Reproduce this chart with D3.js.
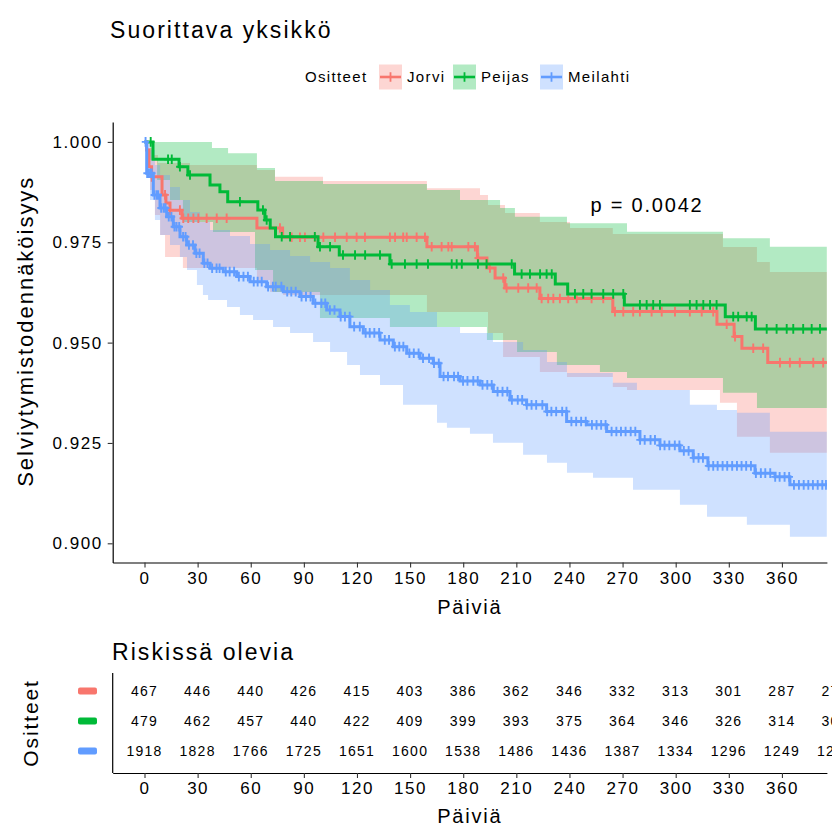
<!DOCTYPE html>
<html>
<head>
<meta charset="utf-8">
<script src="https://cdn.jsdelivr.net/npm/d3@7"></script>
<style>
  body { margin: 0; background: #fff; }
  svg text { font-family: "Liberation Sans", Arial, sans-serif; letter-spacing: 0.09em; fill: #000; }
</style>
</head>
<body>
<svg id="chart" width="832" height="827"></svg>
<script>
// ---- data -------------------------------------------------------------
const groups = ["Jorvi", "Peijas", "Meilahti"];
const groupColors = ["#F8766D", "#00BA38", "#619CFF"];
const legendTitle = "Ositteet";
const pValueLabel = "p = 0.0042";

// Kaplan-Meier estimates: [day, survival] at each step
const jorviSurv = [[0,1],[1.2,0.998],[2.5,0.9938],[4.0,0.9913],[9.9,0.9868],[12.1,0.9848],[14.4,0.983],
  [21.2,0.98097],[63.5,0.97856],[78.0,0.97625],[159.5,0.9739],[188.0,0.97109],[193.4,0.9686],[198.0,0.9661],
  [203.5,0.96362],[223.3,0.961],[264.5,0.95772],[323.3,0.95458],[333.0,0.9515],[337.4,0.94861],[352.0,0.94502],[385.4,0.94502]];
const peijasSurv = [[0,1],[4.8,0.99567],[19.5,0.99382],[24.5,0.99176],[37,0.98927],[42.6,0.9876],[47,0.98511],
  [64,0.98304],[68,0.98055],[71,0.97856],[74,0.97639],[98,0.9739],[110,0.97184],[138.6,0.9696],[209,0.96711],
  [232,0.96462],[239,0.96213],[271,0.9594],[328,0.95647],[345,0.95341],[385.4,0.95341]];
const meilahtiSurv = [[0,1],[1.24,0.99218],[4.97,0.98678],[8.75,0.98354],[12.54,0.98137],[16.26,0.97888],
  [20.05,0.97639],[23.83,0.97433],[28.52,0.97226],[33.2,0.96977],[37,0.96853],[44.5,0.96768],[52.07,0.96644],
  [59.6,0.96519],[69,0.96394],[78.4,0.9627],[87.8,0.96146],[95.3,0.95981],[102.9,0.95814],[110.4,0.95648],
  [116,0.95398],[123.6,0.95242],[133,0.95067],[140.5,0.949],[148.1,0.94736],[155.6,0.94612],[163.1,0.94487],
  [166.9,0.94154],[178.2,0.94046],[189.5,0.93947],[197,0.9378],[206.4,0.93573],[215.8,0.93449],[227.1,0.93282],
  [238.4,0.93033],[249.7,0.92951],[261,0.92784],[279.8,0.92577],[291.1,0.9244],[302.4,0.92303],[309.9,0.92129],
  [318.2,0.9193],[344.8,0.91748],[356.1,0.91656],[364.5,0.91457],[385.4,0.91444]];

// censoring times (days)
const jorviCensor = [4.1,11.6,14.4,20,21.9,24.7,27.6,30.4,35.1,40.8,46.4,76.5,83.1,87.8,90.6,96.2,101,107.6,
  114.2,119.8,124.5,138.6,141.5,146.1,148.1,153.7,158.4,162.2,167.8,171.6,173.5,182.9,186.6,188.5,195.1,202.6,
  204.5,211.1,216.7,221.5,224.3,228,230.9,234.6,239.3,244.1,252.5,259.1,265.7,270.4,276,279.8,286.4,292.1,
  299.6,308,314.7,321.2,328.8,333.5,343.8,349.4,358.9,364.5,370.1,377.7,383.3];
const peijasCensor = [3.5,13.3,15.4,20,25.7,53.9,66.9,69,77.5,82.2,96.2,99.1,104.8,112.1,118.9,124.6,133,
  139.6,147.1,153.7,160.1,173.5,176.3,179.2,188.3,193.2,207.4,213,217.7,223.4,227.1,230,243.1,247.8,252.5,
  259.1,264.7,270.4,279.8,283.6,287.3,291.1,308,311.8,315.6,319.4,323.1,332.5,335.3,340.1,342.9,351.4,357,
  362.7,366.4,372,376.8,381.5];
const meilahtiCensor = [0.6,1.5,2.3,3.4,4.1,5.6,6.9,7.7,9.4,10.8,11.9,13.7,15.2,16.9,18.1,19.6,21.8,23.2,
  25.1,27.4,29.3,31.1,33.8,35.6,38.2,40.7,42.4,45.9,48.1,50.6,53.3,55.9,58.4,61.7,63.9,66.2,69.8,72.5,74.1,
  77.3,80.6,82.9,85.4,88.7,91.2,93.8,96.5,99.9,102.1,104.7,107.3,110.8,113.2,115.9,118.4,121.6,124.9,127.2,
  129.8,132.5,135.7,138.1,141.4,143.9,146.2,149.6,152.1,154.8,157.3,160.7,163.5,166.2,168.9,171.4,174.8,
  177.1,179.9,182.4,185.7,188.2,190.9,193.6,196.1,199.4,202.2,204.9,207.5,210.8,213.3,215.9,218.6,221.2,
  224.7,227.4,229.8,232.5,235.9,238.3,241.1,243.8,246.6,249.2,252.7,255.3,257.9,260.4,263.8,266.5,269.1,
  271.7,274.6,277.2,279.9,282.5,285.8,288.3,291.2,293.7,296.4,299.5,302.1,304.6,307.3,310.1,312.9,315.4,
  318.6,321.2,323.7,326.5,329.1,331.9,334.6,337.2,339.8,342.5,345.3,348.1,350.6,353.4,356.2,358.7,361.5,
  364.1,366.8,369.6,372.3,374.9,377.5,380.2,382.8,384.9];

// 95 % confidence limits: [day, value] at each step
const jorviUpper = [[0,1],[2.0,0.99848],[4.2,0.99675],[7.6,0.99475],[25.7,0.99425],[63.5,0.993],[73.7,0.99133],
  [100.8,0.99026],[159.5,0.98845],[189.5,0.98678],[194.0,0.98429],[203.6,0.9823],[223.3,0.98005],[240.3,0.97856],
  [264.5,0.97707],[326.7,0.97383],[345.9,0.9701],[353.2,0.9676]];
const jorviLower = [[0,1],[1.4,0.99425],[3.1,0.98802],[5.9,0.9818],[8.8,0.9768],[11.6,0.97134],[21.7,0.9686],
  [63.5,0.96561],[70.9,0.96263],[78.2,0.96188],[159.5,0.95764],[194.0,0.95242],[202.5,0.94644],[223.3,0.9427],
  [238.6,0.94146],[264.5,0.93897],[272.5,0.93822],[325.0,0.93499],[334.6,0.92652],[353.2,0.92254]];
const peijasUpper = [[0,1],[38.1,0.99848],[47.2,0.99716],[63.5,0.9935],[73.7,0.99026],[100.8,0.98952],
  [159.5,0.98802],[178.2,0.98553],[200.8,0.98354],[209.2,0.98137],[238.6,0.97973],[272.5,0.97764],
  [326.7,0.976],[353.2,0.9739]];
const peijasLower = [[0,1],[3.1,0.99549],[7.1,0.99051],[14.4,0.98553],[21.7,0.98005],[38.7,0.97757],
  [62.4,0.9681],[72.6,0.96263],[99.1,0.95615],[138.6,0.95391],[193.4,0.95067],[210.4,0.94768],
  [232.9,0.94445],[257.2,0.9427],[272.5,0.94121],[326.7,0.93748],[345.9,0.93374]];
const meilahtiUpper = [[0,1],[3.1,0.99798],[5.9,0.99425],[8.8,0.99176],[14.4,0.98877],[20.0,0.98553],
  [25.7,0.98254],[31.3,0.98005],[37.0,0.97806],[48.3,0.97657],[59.6,0.97458],[70.9,0.97308],[82.2,0.97159],
  [93.5,0.9701],[104.8,0.9686],[116.0,0.96561],[127.4,0.96313],[138.6,0.95939],[149.9,0.95764],[165.2,0.95391],
  [178.2,0.95242],[196.8,0.95017],[213.8,0.94818],[227.3,0.94519],[238.6,0.94245],[264.5,0.93997],
  [278.1,0.93822],[308.0,0.93449],[323.3,0.93324],[334.6,0.9325],[353.2,0.92777]];
const meilahtiLower = [[0,1],[1.4,0.99176],[3.1,0.98553],[5.9,0.98055],[8.8,0.97682],[14.4,0.97433],
  [20.0,0.97134],[24.0,0.96808],[29.6,0.96437],[33.0,0.96188],[35.9,0.96063],[46.6,0.95889],[53.9,0.9569],
  [61.3,0.95565],[72.6,0.95391],[82.2,0.95242],[95.2,0.95017],[104.8,0.94768],[114.4,0.94445],[121.7,0.94195],
  [133.0,0.93947],[146.0,0.93449],[165.2,0.93001],[170.8,0.92876],[183.8,0.92727],[196.8,0.92503],
  [213.8,0.92204],[227.3,0.92005],[238.6,0.91756],[253.3,0.91631],[275.9,0.91333],[302.4,0.90959],
  [317.7,0.9066],[340.2,0.90461],[364.5,0.90162]];

// number at risk
const riskTimes = [0,30,60,90,120,150,180,210,240,270,300,330,360,390];
const jorviRisk = [467,446,440,426,415,403,386,362,346,332,313,301,287,276];
const peijasRisk = [479,462,457,440,422,409,399,393,375,364,346,326,314,305];
const meilahtiRisk = [1918,1828,1766,1725,1651,1600,1538,1486,1436,1387,1334,1296,1249,1207];

const xTicks = [0,30,60,90,120,150,180,210,240,270,300,330,360];
const yTicks = [0.900,0.925,0.950,0.975,1.000];

const series = [
  { name: groups[0], color: groupColors[0], surv: jorviSurv, censor: jorviCensor, upper: jorviUpper, lower: jorviLower, risk: jorviRisk },
  { name: groups[1], color: groupColors[1], surv: peijasSurv, censor: peijasCensor, upper: peijasUpper, lower: peijasLower, risk: peijasRisk },
  { name: groups[2], color: groupColors[2], surv: meilahtiSurv, censor: meilahtiCensor, upper: meilahtiUpper, lower: meilahtiLower, risk: meilahtiRisk }
];

// ---- layout -----------------------------------------------------------
const svg = d3.select("#chart");
const panel = { left: 112.7, right: 826.9, top: 122, bottom: 562.5 };
const table = { top: 673, bottom: 773 };
const tEnd = 385.4;

const x = d3.scaleLinear().domain([-17.96, 385.4]).range([panel.left, panel.right]);
const y = d3.scaleLinear().domain([0.89522, 1.00496]).range([panel.bottom, panel.top]);

// step lookup in a [t, value] array
const stepAt = (arr, t) => {
  const i = d3.bisector(d => d[0]).right(arr, t) - 1;
  return arr[Math.max(0, i)][1];
};

svg.append("defs").append("clipPath").attr("id", "panelClip")
  .append("rect").attr("x", panel.left).attr("y", panel.top)
  .attr("width", panel.right - panel.left).attr("height", panel.bottom - panel.top);

// title
svg.append("text").attr("x", 110).attr("y", 38).attr("font-size", 23).text("Suorittava yksikkö");

// ---- confidence bands -------------------------------------------------
const plotG = svg.append("g").attr("clip-path", "url(#panelClip)");
const area = d3.area().curve(d3.curveStepAfter)
  .x(d => x(d.t)).y0(d => y(d.lo)).y1(d => y(d.hi));

series.forEach(s => {
  const ts = Array.from(new Set(s.upper.map(d => d[0]).concat(s.lower.map(d => d[0])))).sort((a, b) => a - b);
  ts.push(tEnd);
  const rows = ts.map(t => ({ t, lo: stepAt(s.lower, t), hi: stepAt(s.upper, t) }));
  plotG.append("path").datum(rows).attr("d", area)
    .attr("fill", s.color).attr("fill-opacity", 0.3);
});

// ---- survival curves and censor marks ---------------------------------
const line = d3.line().curve(d3.curveStepAfter).x(d => x(d[0])).y(d => y(d[1]));
const plus = (cx, cy) => `M${cx - 3.8},${cy}h7.6M${cx},${cy - 4.8}v9.6`;

series.forEach(s => {
  plotG.append("path").datum(s.surv).attr("d", line)
    .attr("fill", "none").attr("stroke", s.color).attr("stroke-width", 3);
  plotG.append("path")
    .attr("d", s.censor.map(t => plus(x(t), y(stepAt(s.surv, t)))).join(""))
    .attr("fill", "none").attr("stroke", s.color).attr("stroke-width", 1.9);
});

// ---- axes -------------------------------------------------------------
const styleAxis = g => {
  g.select(".domain").attr("stroke", "#000").attr("stroke-width", 1.2);
  g.selectAll(".tick line").attr("stroke", "#333").attr("stroke-width", 1.1);
  g.selectAll(".tick text").attr("font-size", 17).attr("fill", "#222").attr("font-family", null);
};

svg.append("g").attr("transform", `translate(${panel.left},0)`)
  .call(d3.axisLeft(y).tickValues(yTicks).tickFormat(d3.format(".3f")).tickSize(5).tickPadding(5).tickSizeOuter(0))
  .call(styleAxis);

svg.append("g").attr("transform", `translate(0,${panel.bottom})`)
  .call(d3.axisBottom(x).tickValues(xTicks).tickSize(5).tickPadding(4).tickSizeOuter(0))
  .call(styleAxis);

svg.append("text").attr("x", (panel.left + panel.right) / 2).attr("y", 614)
  .attr("text-anchor", "middle").attr("font-size", 20).text("Päiviä");
svg.append("text").attr("transform", `translate(33,${(panel.top + panel.bottom) / 2 - 11}) rotate(-90)`)
  .attr("text-anchor", "middle").attr("font-size", 22).text("Selviytymistodennäköisyys");

svg.append("text").attr("x", 647).attr("y", 212).attr("text-anchor", "middle")
  .attr("font-size", 20).text(pValueLabel);

// ---- legend -----------------------------------------------------------
const legend = svg.append("g");
legend.append("text").attr("x", 305).attr("y", 82).attr("font-size", 15).attr("fill", "#222").text(legendTitle);
const keyX = [379, 453, 540];
series.forEach((s, i) => {
  const kx = keyX[i], ky = 64.5, kw = 23, kh = 25;
  legend.append("rect").attr("x", kx).attr("y", ky).attr("width", kw).attr("height", kh)
    .attr("fill", s.color).attr("fill-opacity", 0.3);
  legend.append("line").attr("x1", kx + 1).attr("x2", kx + kw - 1).attr("y1", ky + kh / 2).attr("y2", ky + kh / 2)
    .attr("stroke", s.color).attr("stroke-width", 2.6);
  legend.append("path").attr("d", plus(kx + kw / 2, ky + kh / 2))
    .attr("stroke", s.color).attr("stroke-width", 1.8).attr("fill", "none");
  legend.append("text").attr("x", kx + kw + 5).attr("y", 82).attr("font-size", 15).attr("fill", "#222").text(s.name);
});

// ---- risk table -------------------------------------------------------
svg.append("text").attr("x", 112).attr("y", 660).attr("font-size", 23).text("Riskissä olevia");

const rowY = d3.scalePoint().domain(groups).range([691, 751]);

series.forEach(s => {
  svg.append("g").selectAll("text").data(riskTimes.map((t, i) => [t, s.risk[i]])).join("text")
    .attr("x", d => x(d[0])).attr("y", rowY(s.name) + 5)
    .attr("text-anchor", "middle").attr("font-size", 14).attr("fill", "#111")
    .text(d => d[1]);
  svg.append("rect").attr("x", 78).attr("y", rowY(s.name) - 3.5).attr("width", 19).attr("height", 7)
    .attr("rx", 2).attr("fill", s.color);
});

svg.append("line").attr("x1", panel.left).attr("x2", panel.left).attr("y1", table.top).attr("y2", table.bottom)
  .attr("stroke", "#000").attr("stroke-width", 1.2);
svg.append("g").attr("transform", `translate(0,${table.bottom})`)
  .call(d3.axisBottom(x).tickValues(xTicks).tickSize(5).tickPadding(4).tickSizeOuter(0))
  .call(styleAxis);

svg.append("text").attr("x", (panel.left + panel.right) / 2).attr("y", 823)
  .attr("text-anchor", "middle").attr("font-size", 20).text("Päiviä");
svg.append("text").attr("transform", `translate(38,${(table.top + table.bottom) / 2}) rotate(-90)`)
  .attr("text-anchor", "middle").attr("font-size", 21).text(legendTitle);
</script>
</body>
</html>
